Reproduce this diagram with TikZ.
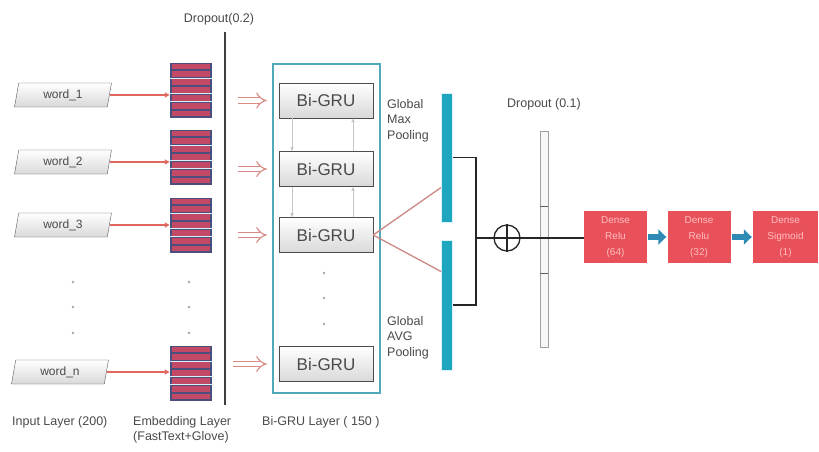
\documentclass[tikz,border=0pt]{standalone}
\usepackage{fontspec}
\setmainfont{Liberation Sans}
\usepackage{xcolor}
\usepackage{tikz}
\usetikzlibrary{arrows.meta,shapes.geometric}
\definecolor{NetRed}{HTML}{E0665E}
\definecolor{NetPink}{HTML}{D98A84}
\definecolor{NetTeal}{HTML}{1FA6BF}
\definecolor{NetFrame}{HTML}{4FA9B8}
\definecolor{NetBlue}{HTML}{2E8BB5}
\definecolor{NetText}{HTML}{4A4A4A}
\definecolor{StackRed}{HTML}{C24A66}
\definecolor{StackBlue}{HTML}{4C4E7E}
\definecolor{DenseRed}{HTML}{E8505A}

\begin{document}
\begin{tikzpicture}[x=1pt,y=-1pt,
  word/.style={trapezium,trapezium left angle=72,trapezium right angle=108,trapezium stretches body,
    draw=gray!70!black,top color=white,bottom color=gray!30,minimum width=97pt,minimum height=24pt,
    inner sep=1pt,text=NetText,font=\fontsize{12}{14}\selectfont},
  stack/.style={rectangle,fill=StackBlue,minimum width=42pt,minimum height=55pt,inner sep=0pt},
  gru/.style={rectangle,draw=gray!60!black,top color=white,bottom color=gray!30,
    minimum width=94pt,minimum height=35pt,text=NetText,font=\fontsize{17}{20}\selectfont},
  pool/.style={rectangle,fill=NetTeal,draw=cyan!15,line width=1pt,minimum width=11pt,inner sep=0pt},
  dense/.style={rectangle,fill=DenseRed,minimum width=63pt,minimum height=52pt,inner sep=1pt,
    align=center,text=red!25,font=\fontsize{10}{16}\selectfont},
  label/.style={text=NetText,inner sep=0pt,font=\fontsize{12.5}{15.5}\selectfont},
  feed/.style={draw=NetRed,line width=2.6pt,-{Latex[length=5pt,width=6pt]}},
  hollow/.style={draw=NetPink,line width=1.1pt,double=white,double distance=4.5pt,-{Implies},shorten >=12pt},
  gruarrow/.style={draw=gray!45,line width=0.7pt,-{Latex[length=4pt,width=4pt]}},
  poolline/.style={draw=NetPink!85!gray,line width=1.3pt},
  bracket/.style={draw=black!85,line width=1.3pt},
  densearrow/.style={draw=NetBlue,line width=6pt,-{Triangle[length=8pt,width=15pt]},shorten <=1pt,shorten >=1pt},
  dot/.style={fill=gray!70}]
\path[use as bounding box] (0,0) rectangle (819,451);
\fill[white] (0,0) rectangle (819,451);

\node[word] (w1) at (63,95) {word\_1};
\node[word] (w2) at (63,162) {word\_2};
\node[word] (w3) at (63,225) {word\_3};
\node[word] (wn) at (60,372) {word\_n};

\foreach \n/\y in {1/90,2/157,3/225,n/373} {
  \node[stack] (e\n) at (191,\y) {};
  \foreach \k in {0,...,6}
    \fill[StackRed] (172,{\y-27.5+\k*7.857+1.1}) rectangle (210,{\y-27.5+(\k+1)*7.857-1.1});
  \foreach \k in {2,4,5}
    \draw[white!85!cyan,line width=0.9pt] (170,{\y-27.5+\k*7.857}) -- (212,{\y-27.5+\k*7.857});
}

\draw[feed] (w1.east) -- (w1.east -| e1.west);
\draw[feed] (w2.east) -- (w2.east -| e2.west);
\draw[feed] (w3.east) -- (w3.east -| e3.west);
\draw[feed] (wn.east) -- (wn.east -| en.west);

\foreach \y in {282,307,333} {
  \fill[dot] (73,\y) circle (1.3);
  \fill[dot] (189,\y) circle (1.3);
  \fill[dot] (324,{\y-9}) circle (1.3);
}

\draw[black!75,line width=1.5pt] (225,32) -- (225,405);
\node[label] (drop1) at (219,19) {Dropout(0.2)};

\node[rectangle,draw=NetFrame,line width=1.3pt,minimum width=107pt,minimum height=329pt] (frame) at (326.5,228.5) {};
\node[gru] (g1) at (326,100.5) {Bi-GRU};
\node[gru] (g2) at (326,169) {Bi-GRU};
\node[gru] (g3) at (326,235) {Bi-GRU};
\node[gru] (gn) at (326,364) {Bi-GRU};

\draw[gruarrow] ([xshift=-34pt]g1.south) -- ([xshift=-34pt]g2.north);
\draw[gruarrow] ([xshift=-34pt]g2.south) -- ([xshift=-34pt]g3.north);
\draw[gruarrow] ([xshift=27pt]g2.north) -- ([xshift=27pt]g1.south);
\draw[gruarrow] ([xshift=27pt]g3.north) -- ([xshift=27pt]g2.south);

\draw[hollow] ([xshift=-41pt]g1.west) -- (g1.west);
\draw[hollow] ([xshift=-41pt]g2.west) -- (g2.west);
\draw[hollow] ([xshift=-41pt]g3.west) -- (g3.west);
\draw[hollow] ([xshift=-46pt]gn.west) -- (gn.west);

\node[pool,minimum height=129pt] (mp) at (447,157.5) {};
\node[pool,minimum height=130pt] (ap) at (447,305) {};
\node[label,anchor=north west,align=left] (mplab) at (387,99) {Global\\Max\\Pooling};
\node[label,anchor=north west,align=left] (aplab) at (387,316) {Global\\AVG\\Pooling};

\draw[poolline] (g3.east) -- ([yshift=35pt]mp.south west);
\draw[poolline] (g3.east) -- ([yshift=-32pt]ap.north west);

\draw[bracket] (mp.east) -- ++(23,0) |- (ap.east);
\coordinate (join) at (475,238);
\node[circle,draw=black!85,line width=1.3pt,minimum size=26pt,inner sep=0pt] (sum) at (507,238) {};
\draw[bracket] (sum.north) -- (sum.south) (sum.west) -- (sum.east);
\draw[bracket] (join) -- (sum.west);

\node[rectangle,draw=gray!75,fill=gray!6,line width=0.8pt,minimum width=8pt,minimum height=216pt,inner sep=0pt] (drop2) at (544,239) {};
\draw[gray!75!black,line width=0.8pt] ([yshift=-34pt]drop2.west) -- ([yshift=-34pt]drop2.east);
\draw[gray!75!black,line width=0.8pt] ([yshift=33pt]drop2.west) -- ([yshift=33pt]drop2.east);
\node[label] (drop2lab) at (544,104) {Dropout (0.1)};

\node[dense] (d1) at (615.5,237) {Dense\\Relu\\(64)};
\node[dense] (d2) at (699,237) {Dense\\Relu\\(32)};
\node[dense,minimum width=65pt] (d3) at (785.5,237) {Dense\\Sigmoid\\(1)};

\draw[bracket] (sum.east) -- (sum.east -| d1.west);
\draw[densearrow] (d1) -- (d2);
\draw[densearrow] (d2) -- (d3);

\node[label,anchor=north west] (inlab) at (12,416) {Input Layer (200)};
\node[label,anchor=north west,align=left] (emlab) at (133,416) {Embedding Layer\\(FastText+Glove)};
\node[label,anchor=north west] (grulab) at (262,416) {Bi-GRU Layer ( 150 )};
\end{tikzpicture}
\end{document}
